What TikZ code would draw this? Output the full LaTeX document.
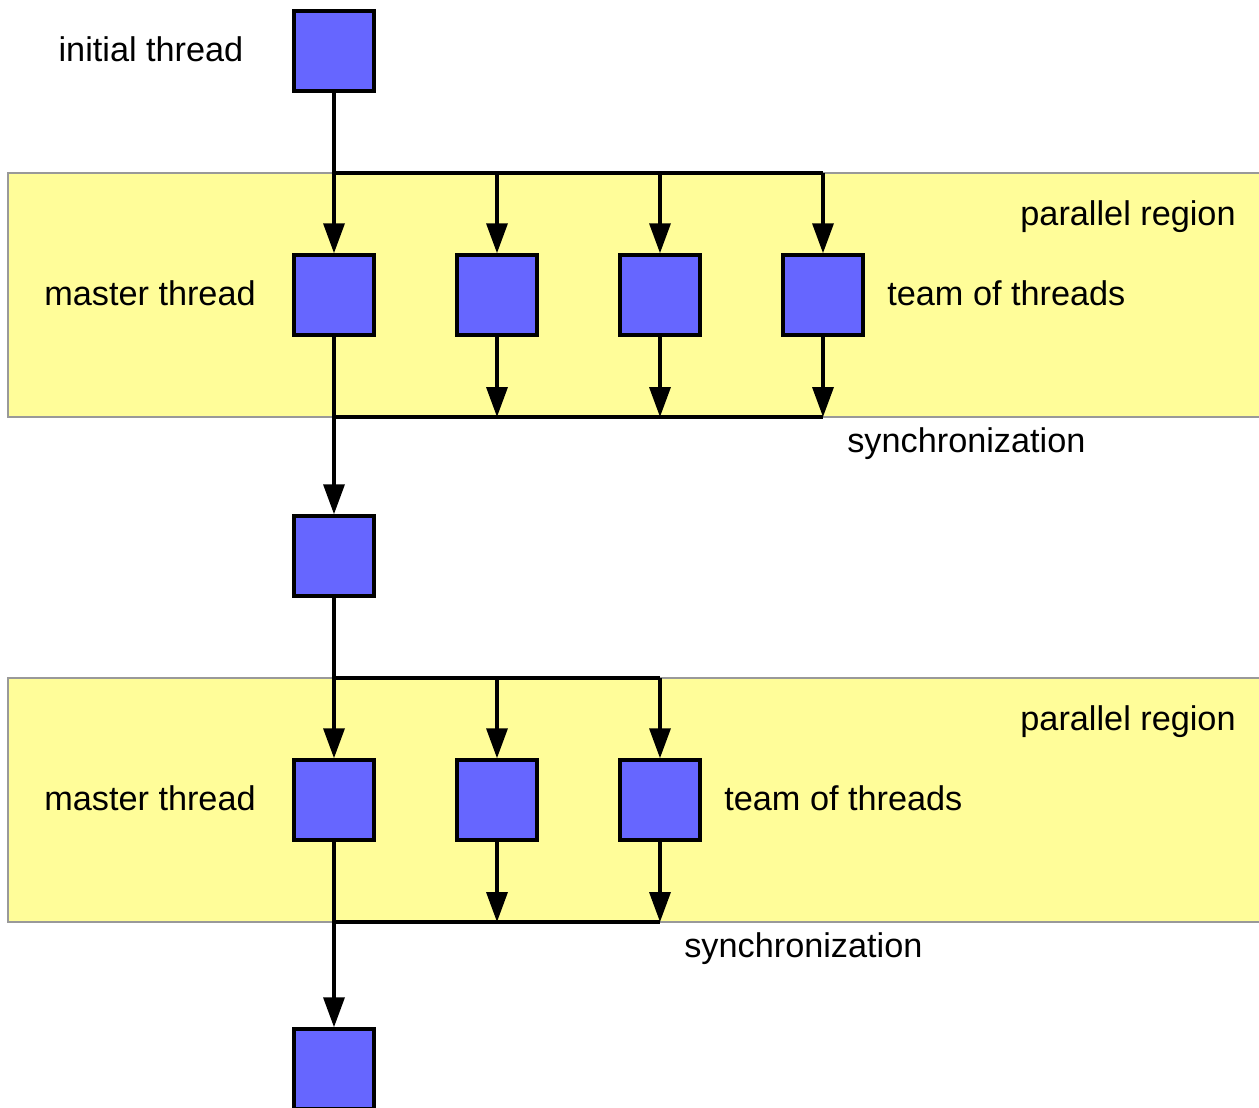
\documentclass[tikz,border=0pt]{standalone}
\usepackage{fontspec}
\setmainfont{Liberation Sans}
\usetikzlibrary{arrows.meta}
\definecolor{threadblue}{RGB}{102,102,255}
\definecolor{regionyellow}{RGB}{255,253,153}
\begin{document}
\begin{tikzpicture}[x=0.02cm,y=-0.02cm,
  font=\fontsize{19.5}{23}\selectfont,
  thread/.style={draw,fill=threadblue,line width=2pt,minimum size=1.6cm,inner sep=0pt},
  region/.style={fill=regionyellow,draw=gray!80,line width=0.6pt},
  flow/.style={line width=2pt,line join=round},
  tip/.style={flow,-{Triangle[length=6mm,width=4.2mm]}}]

    \useasboundingbox (0,0) rectangle (1259,1107);

%draw parallel regions
    \draw[region] (1270,173) -- (8,173) -- (8,417) -- (1270,417);
    \draw[region] (1270,678) -- (8,678) -- (8,922) -- (1270,922);

%draw threads
    \node[thread] (init) at (334,51) {};
    \node[thread] (m1) at (334,295) {};
    \foreach \x/\n in {497/1,660/2,823/3}
      \node[thread] (t1\n) at (\x,295) {};
    \node[thread] (serial) at (334,556) {};
    \node[thread] (m2) at (334,800) {};
    \foreach \x/\n in {497/1,660/2}
      \node[thread] (t2\n) at (\x,800) {};
    \node[thread] (final) at (334,1069) {};

%fork and join points
    \coordinate (fork1) at (334,173);
    \coordinate (join1) at (334,417);
    \coordinate (fork2) at (334,678);
    \coordinate (join2) at (334,922);

%first region
    \draw[flow] (init) -- (fork1) -- (t13 |- fork1);
    \draw[tip] (fork1) -- (m1);
    \foreach \n in {1,2,3} {
      \draw[tip] (t1\n |- fork1) -- (t1\n);
      \draw[tip] (t1\n) -- (t1\n |- join1); }
    \draw[flow,line width=2.6pt] (m1) -- (join1) -- (t13 |- join1);
    \draw[tip] (join1) -- (serial);

%second region
    \draw[flow] (serial) -- (fork2) -- (t22 |- fork2);
    \draw[tip] (fork2) -- (m2);
    \foreach \n in {1,2} {
      \draw[tip] (t2\n |- fork2) -- (t2\n);
      \draw[tip] (t2\n) -- (t2\n |- join2); }
    \draw[flow,line width=2.6pt] (m2) -- (join2) -- (t22 |- join2);
    \draw[tip] (join2) -- (final);

%labels
    \node[anchor=base] (lInit) at (151,61) {initial thread};
    \node[anchor=base east,inner sep=0pt] (lPar1) at (1236,225) {parallel region};
    \node[anchor=base] (lMaster1) at (150,305) {master thread};
    \node[anchor=base west,inner sep=0pt] (lTeam1) at (887,305) {team of threads};
    \node[anchor=base west,inner sep=0pt] (lSync1) at (847,452) {synchronization};
    \node[anchor=base east,inner sep=0pt] (lPar2) at (1236,730) {parallel region};
    \node[anchor=base] (lMaster2) at (150,810) {master thread};
    \node[anchor=base west,inner sep=0pt] (lTeam2) at (724,810) {team of threads};
    \node[anchor=base west,inner sep=0pt] (lSync2) at (684,957) {synchronization};

\end{tikzpicture}
\end{document}
